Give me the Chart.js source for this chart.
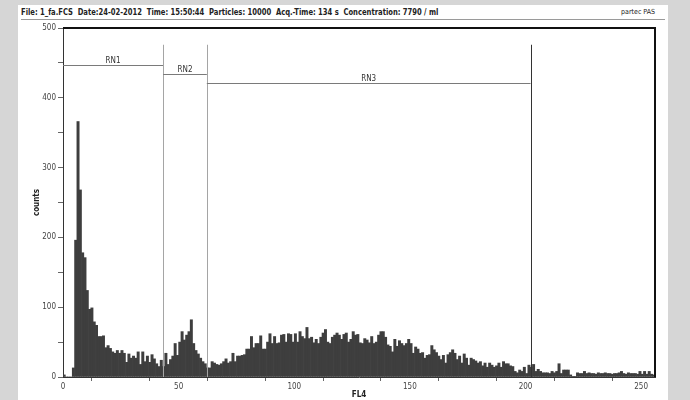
<!DOCTYPE html>
<html>
<head>
<meta charset="utf-8">
<script src="https://cdn.jsdelivr.net/npm/chart.js"></script>
<style>
  html, body { margin: 0; padding: 0; background: #d6d6d6; }
  #wrap { position: relative; width: 690px; height: 400px; overflow: hidden; }
  #paper { position: absolute; left: 18px; top: 5px; width: 650px; height: 395px; background: #fff; }
  #head {
    position: absolute; left: 21px; top: 6px; width: 644px; height: 13px;
    border-bottom: 1px solid #9a9a9a;
    font: bold 9px "Liberation Sans Narrow", "DejaVu Sans Condensed", sans-serif;
    color: #222; white-space: pre; line-height: 12px;
  }
  #head .l { display: inline-block; transform: scaleX(0.84); transform-origin: 0 0; }
  #head .r { position: absolute; right: 10px; top: 0; font-size: 7px; font-weight: normal; }
  canvas { position: absolute; left: 0; top: 0; }
</style>
</head>
<body>
<div id="wrap">
  <div id="paper"></div>
  <div id="head"><span class="l">File: 1_fa.FCS  Date:24-02-2012  Time: 15:50:44  Particles: 10000  Acq.-Time: 134 s  Concentration: 7790 / ml</span><span class="r">partec PAS</span></div>
  <canvas id="myChart" width="690" height="400"></canvas>
</div>
<script>
// canales FL4 (0-255) y cuentas por canal
const channels = Array.from({ length: 256 }, (_, i) => i);
const counts = [
  3, 0, 0, 0, 13, 196, 366, 268, 178, 171,
  124, 97, 99, 79, 74, 58, 58, 59, 42, 45,
  41, 36, 34, 38, 34, 38, 34, 21, 33, 27,
  30, 27, 36, 18, 36, 22, 30, 21, 32, 26,
  19, 15, 24, 15, 34, 18, 25, 30, 48, 31,
  50, 65, 53, 60, 65, 82, 48, 38, 33, 27,
  22, 19, 13, 13, 22, 20, 18, 17, 19, 22,
  26, 20, 22, 34, 22, 30, 30, 31, 32, 40,
  40, 58, 42, 48, 48, 59, 40, 40, 50, 62,
  48, 58, 48, 49, 60, 61, 50, 62, 61, 50,
  62, 50, 65, 58, 55, 71, 55, 57, 49, 54,
  48, 57, 63, 68, 50, 48, 57, 60, 63, 60,
  54, 61, 63, 50, 54, 65, 60, 61, 49, 48,
  55, 53, 49, 58, 48, 50, 60, 65, 65, 57,
  46, 44, 36, 54, 44, 52, 48, 45, 48, 54,
  48, 34, 43, 40, 34, 35, 27, 31, 32, 45,
  39, 35, 30, 25, 31, 20, 32, 35, 39, 34,
  25, 30, 20, 33, 27, 17, 27, 25, 23, 20,
  22, 16, 20, 14, 20, 17, 14, 16, 20, 14,
  22, 19, 19, 16, 15, 8, 6, 10, 8, 14,
  5, 17, 14, 18, 8, 11, 8, 6, 6, 6,
  5, 8, 6, 8, 19, 5, 10, 10, 10, 3,
  1, 1, 6, 5, 5, 8, 5, 6, 5, 5,
  4, 6, 5, 5, 6, 5, 5, 4, 5, 5,
  6, 8, 5, 4, 6, 5, 5, 5, 4, 8,
  4, 8, 4, 8, 4, 3
];
const xTicks = [0, 25, 50, 75, 100, 125, 150, 175, 200, 225, 250];
const yTicks = [0, 50, 100, 150, 200, 250, 300, 350, 400, 450, 500];

// regiones
const gateNames = ['RN1', 'RN2', 'RN3'];
const gateFrom = [0, 43.3, 62.2];
const gateTo = [43.3, 62.2, 202.2];
const gateLevel = [447, 434, 421];

const narrow = '"Liberation Sans Narrow", "DejaVu Sans Condensed", sans-serif';

const gatePlugin = {
  id: 'gates',
  afterDraw(chart) {
    const { ctx, chartArea: a, scales: { x, y } } = chart;
    ctx.save();
    const top = y.getPixelForValue(476);
    ctx.font = '8px ' + narrow;
    ctx.textAlign = 'center';
    ctx.textBaseline = 'bottom';
    gateNames.forEach((name, i) => {
      const x0 = x.getPixelForValue(gateFrom[i]);
      const x1 = x.getPixelForValue(gateTo[i]);
      const yl = Math.round(y.getPixelForValue(gateLevel[i])) + 0.5;
      ctx.strokeStyle = '#7a7a7a';
      ctx.lineWidth = 1;
      ctx.beginPath();
      ctx.moveTo(x0, yl);
      ctx.lineTo(x1, yl);
      ctx.stroke();

      const last = i === gateNames.length - 1;
      const xv = Math.round(x1) + 0.5;
      ctx.strokeStyle = last ? '#333' : '#a5a5a5';
      ctx.beginPath();
      ctx.moveTo(xv, top);
      ctx.lineTo(xv, a.bottom);
      ctx.stroke();

      ctx.fillStyle = '#333';
      ctx.fillText(name, (x0 + x1) / 2, yl - 1);
    });

    // marco del grafico
    ctx.strokeStyle = '#111';
    ctx.lineWidth = 2;
    ctx.beginPath();
    ctx.moveTo(a.left, a.top);
    ctx.lineTo(a.right, a.top);
    ctx.lineTo(a.right, a.bottom);
    ctx.stroke();
    ctx.restore();
  }
};

const ctx = document.getElementById('myChart').getContext('2d');
new Chart(ctx, {
  type: 'bar',
  data: {
    datasets: [{
      label: 'counts',
      data: channels.map((c, i) => ({ x: c + 0.5, y: counts[i] })),
      backgroundColor: '#3e3e3e',
      borderWidth: 0,
      barPercentage: 1,
      categoryPercentage: 1
    }]
  },
  options: {
    responsive: false,
    animation: false,
    layout: { padding: { top: 28, right: 35, left: 0, bottom: 0 } },
    plugins: { legend: { display: false }, tooltip: { enabled: false } },
    scales: {
      x: {
        type: 'linear',
        min: 0,
        max: 256,
        offset: false,
        afterBuildTicks: s => { s.ticks = xTicks.map(v => ({ value: v })); },
        afterFit: s => { s.height = 23; },
        ticks: {
          autoSkip: false,
          maxRotation: 0,
          padding: 1,
          color: '#444',
          font: { family: narrow, size: 8 },
          callback: v => (v % 50 === 0 ? v : '')
        },
        grid: { drawOnChartArea: false, tickLength: 4, tickColor: '#666' },
        border: { color: '#333', width: 1 },
        title: {
          display: true,
          text: 'FL4',
          color: '#222',
          padding: { top: 0, bottom: 0 },
          font: { family: narrow, size: 8, weight: 'bold' }
        }
      },
      y: {
        min: 0,
        max: 500,
        afterBuildTicks: s => { s.ticks = yTicks.map(v => ({ value: v })); },
        afterFit: s => { s.width = 63; },
        ticks: {
          padding: 2,
          color: '#444',
          font: { family: narrow, size: 8 },
          callback: v => (v % 100 === 0 ? v : '')
        },
        grid: { drawOnChartArea: false, tickLength: 5, tickColor: '#666' },
        border: { color: '#333', width: 1 },
        title: {
          display: true,
          text: 'counts',
          color: '#222',
          padding: { top: 32, bottom: 0 },
          font: { family: narrow, size: 8, weight: 'bold' }
        }
      }
    }
  },
  plugins: [gatePlugin]
});
</script>
</body>
</html>
